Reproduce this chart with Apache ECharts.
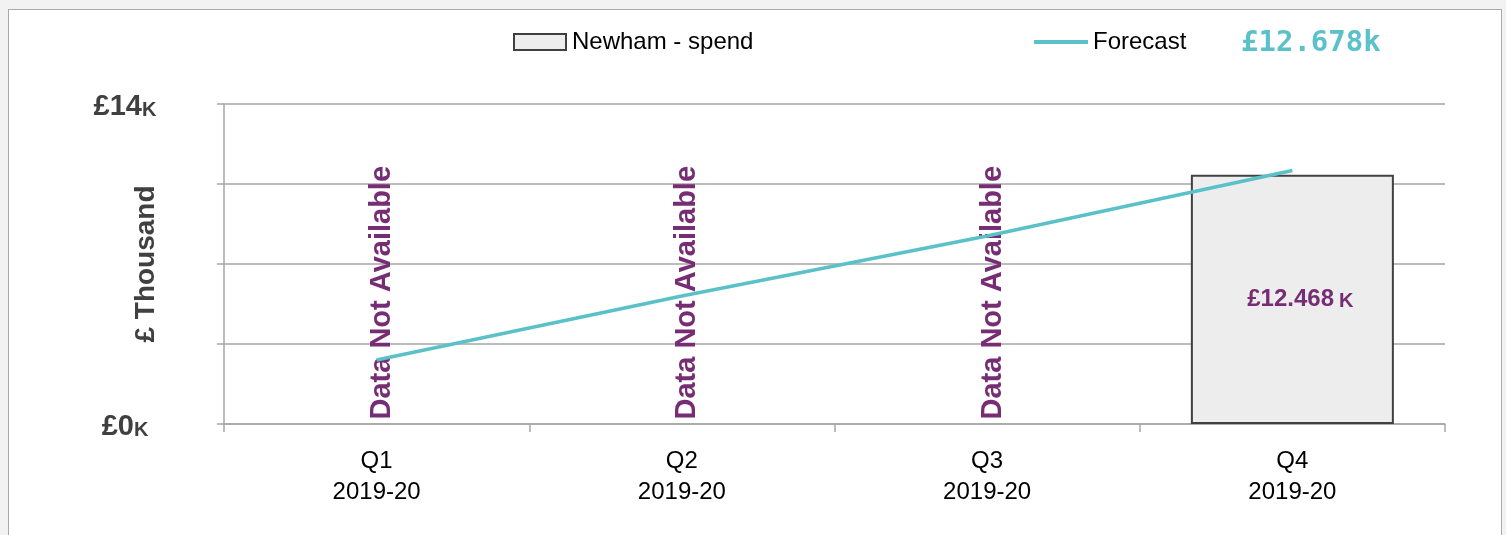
<!DOCTYPE html>
<html>
<head>
<meta charset="utf-8">
<script src="https://cdn.jsdelivr.net/npm/echarts@6/dist/echarts.min.js"></script>
<style>
  html, body { margin: 0; padding: 0; background: #f2f2f2; }
  #frame { position: absolute; left: 8px; top: 9px; width: 1494px; height: 540px; background: #ffffff; border: 1px solid #a9a9a9; box-sizing: border-box; }
  #chart { position: absolute; left: 0; top: 0; width: 1506px; height: 535px; }
</style>
</head>
<body>
<div id="frame"></div>
<div id="chart"></div>
<script>
// ---- data ----
const categories = ['Q1\n2019-20', 'Q2\n2019-20', 'Q3\n2019-20', 'Q4\n2019-20'];
const spendValues = [null, null, null, 12.468];
const forecastValues = [3.2, 6.4, 9.4, 12.678];
const yTickLabels = ['£0', '', '', '', '£14'];
const yUnit = 'K';
const missingText = 'Data Not Available';
const spendName = 'Newham - spend';
const forecastName = 'Forecast';

// ---- styles ----
const purple = '#772d73';
const teal = '#5bc1c8';
const grey = '#404040';
const gridGrey = '#a6a6a6';
const font = 'Liberation Sans, Arial, sans-serif';

const chart = echarts.init(document.getElementById('chart'));

const missingData = spendValues.map(v => (v == null ? 0 : null));
const lastForecast = forecastValues[forecastValues.length - 1];

chart.setOption({
  backgroundColor: 'transparent',
  animation: false,
  textStyle: { fontFamily: font },
  grid: { left: 224, right: 61, top: 104, bottom: 111 },
  title: {
    text: '£' + lastForecast.toFixed(3) + 'k',
    left: 1241, top: 29, padding: 0,
    textStyle: { fontFamily: 'DejaVu Sans Mono, monospace', fontWeight: 'bold', fontSize: 29, color: teal }
  },
  legend: [
    {
      data: [{ name: spendName, icon: 'rect' }], left: 513, top: 30, padding: 0,
      itemWidth: 52, itemHeight: 16,
      textStyle: { fontSize: 24, color: '#000', fontFamily: font, padding: [0, 0, 0, 1] }
    },
    {
      data: [{ name: forecastName, icon: 'rect' }], left: 1034, top: 30, padding: 0,
      itemWidth: 54, itemHeight: 4,
      textStyle: { fontSize: 24, color: '#000', fontFamily: font }
    }
  ],
  xAxis: {
    type: 'category',
    data: categories,
    boundaryGap: true,
    axisLine: { lineStyle: { color: gridGrey, width: 1.5 } },
    axisTick: { show: true, length: 8, lineStyle: { color: gridGrey, width: 1.5 } },
    axisLabel: { color: '#000', fontSize: 24, lineHeight: 31, margin: 22, fontFamily: font }
  },
  yAxis: {
    type: 'value',
    min: 0, max: 16, interval: 4,
    name: '£ Thousand',
    nameLocation: 'middle',
    nameGap: 64,
    nameMoveOverlap: false,
    nameTextStyle: { fontSize: 28, fontWeight: 'bold', color: grey, fontFamily: font },
    axisLine: { show: true, lineStyle: { color: gridGrey, width: 1.5 } },
    axisTick: { show: true, length: 7, lineStyle: { color: gridGrey, width: 1.5 } },
    splitLine: { show: true, lineStyle: { color: gridGrey, width: 1.5 } },
    axisLabel: {
      align: 'center', margin: 99, padding: [6, 0, 0, 0],
      formatter: function (v) {
        const t = yTickLabels[Math.round(v / 4)];
        return t ? '{a|' + t + '}{b|' + yUnit + '}' : '';
      },
      rich: {
        a: { fontSize: 29, fontWeight: 'bold', color: grey, fontFamily: font },
        b: { fontSize: 20, fontWeight: 'bold', color: grey, fontFamily: font, verticalAlign: 'bottom', padding: [0, 0, 1, 0] }
      }
    }
  },
  series: [
    {
      name: spendName,
      type: 'bar',
      data: spendValues,
      barWidth: '66.5%',
      itemStyle: { color: '#ededed', borderColor: grey, borderWidth: 2 },
      label: {
        show: true, position: 'inside', offset: [8, 0],
        formatter: function (p) { return '{a|£' + p.value.toFixed(3) + '}{b|' + yUnit + '}'; },
        rich: {
          a: { fontSize: 24, fontWeight: 'bold', color: purple, fontFamily: font },
          b: { fontSize: 20, fontWeight: 'bold', color: purple, fontFamily: font, padding: [4, 0, 0, 5] }
        }
      },
      z: 2
    },
    {
      name: 'missing',
      type: 'scatter',
      data: missingData,
      symbolSize: 1,
      itemStyle: { color: 'rgba(0,0,0,0)', opacity: 1 },
      silent: true,
      label: {
        show: true,
        formatter: missingText,
        position: [6, -4],
        rotate: 90,
        align: 'left',
        verticalAlign: 'middle',
        opacity: 1,
        fontSize: 29, fontWeight: 'bold', color: purple, fontFamily: font
      },
      z: 3
    },
    {
      name: forecastName,
      type: 'line',
      data: forecastValues,
      symbol: 'none',
      lineStyle: { color: teal, width: 3.5 },
      itemStyle: { color: teal },
      z: 4
    }
  ]
});
</script>
</body>
</html>
